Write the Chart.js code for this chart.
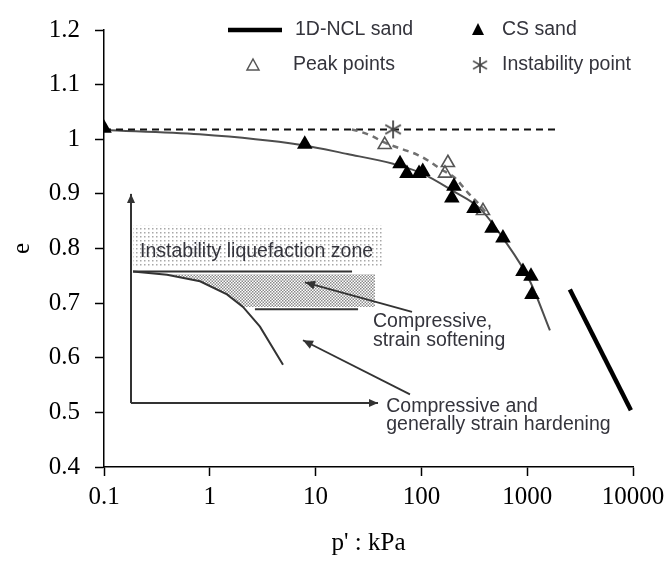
<!DOCTYPE html>
<html lang="en">
<head>
    <meta charset="UTF-8">
    <title>e - log p' plot</title>
    <style>
        body { margin: 0; background: #fff; }
        #wrap { width: 672px; height: 561px; }
    </style>
</head>
<body>
    <div id="wrap"><canvas id="chart" width="672" height="561"></canvas></div>

    <script src="https://cdn.jsdelivr.net/npm/chart.js"></script>
    <script>
        // x tick values (p' : kPa) and y range (e)
        const xTicks = [0.1, 1, 10, 100, 1000, 10000];
        const xTickLabels = ['0.1', '1', '10', '100', '1000', '10000'];
        const yMin = 0.4, yMax = 1.2, yStep = 0.1;

        // 1D-NCL sand
        const nclP = [2530, 9550];
        const nclE = [0.725, 0.504];

        // CS sand points
        const csP = [0.1, 7.9, 62.8, 73, 95, 103, 203, 194, 314, 465, 590, 912, 1086, 1109];
        const csE = [1.02, 0.991, 0.955, 0.9375, 0.9375, 0.941, 0.914, 0.8925, 0.873, 0.837, 0.819, 0.758, 0.749, 0.716];

        // fitted critical state curve (solid grey)
        const cslP = [0.1, 0.8, 7.1, 20, 54, 100, 200, 358, 590, 1062, 1640];
        const cslE = [1.017, 1.009, 0.990, 0.973, 0.955, 0.938, 0.905, 0.873, 0.819, 0.740, 0.650];

        // peak points (open triangles)
        const peakP = [45, 178, 167, 382];
        const peakE = [0.990, 0.957, 0.9375, 0.869];

        // instability point
        const instP = [54];
        const instE = [1.018];

        // horizontal dashed line
        const hLineP = [0.1, 1900];
        const hLineE = [1.018, 1.018];

        // dashed curve through peak points
        const dashP = [22, 25.2, 34.1, 43.4, 65.6, 90.9, 120, 150, 208, 276, 374, 426];
        const dashE = [1.018, 1.015, 1.006, 0.995, 0.982, 0.972, 0.959, 0.946, 0.929, 0.902, 0.875, 0.860];

        // inset schematic, in (p, e) coordinates
        const insetAxisP = [0.18, 0.18, 38.9];
        const insetAxisE = [0.900, 0.517, 0.517];
        const zoneP = [0.188, 43.4];
        const zoneE = [0.767, 0.842];
        const topLineP = [0.188, 22.1];
        const topLineE = [0.758, 0.758];
        const lowLineP = [2.67, 25.2];
        const lowLineE = [0.689, 0.689];
        const insetCurveP = [0.188, 0.394, 0.808, 1.454, 2.06, 2.98, 4.92];
        const insetCurveE = [0.758, 0.752, 0.740, 0.716, 0.693, 0.657, 0.587];
        const denseP = [0.394, 36.4, 36.4, 2.06, 1.454, 0.808];
        const denseE = [0.753, 0.753, 0.693, 0.693, 0.716, 0.740];
        const arrowFromP = [81.5, 78];
        const arrowFromE = [0.684, 0.533];
        const arrowToP = [7.94, 7.6];
        const arrowToE = [0.738, 0.632];
        const noteText = ['Instability liquefaction zone', 'Compressive,', 'strain softening', 'Compressive and', 'generally strain hardening'];
        const noteP = [0.219, 34.9, 34.9, 46.5, 46.5];
        const noteE = [0.795, 0.666, 0.632, 0.510, 0.477];

        const pts = (xs, ys) => xs.map((v, i) => ({ x: v, y: ys[i] }));
        const textColor = '#34343c';
        const sansFont = '"Liberation Sans", Arial, sans-serif';
        const serifFont = '"Liberation Serif", "Times New Roman", serif';

        // asterisk marker
        function makeAsterisk(size) {
            const c = document.createElement('canvas');
            c.width = size; c.height = size;
            const g = c.getContext('2d');
            g.strokeStyle = '#444';
            g.lineWidth = 1.8;
            const r = size / 2 - 1, m = size / 2;
            for (let a = 0; a < 3; a++) {
                const ang = Math.PI / 2 + a * Math.PI / 3;
                g.beginPath();
                g.moveTo(m + r * Math.cos(ang), m - r * Math.sin(ang));
                g.lineTo(m - r * Math.cos(ang), m + r * Math.sin(ang));
                g.stroke();
            }
            return c;
        }
        const asterisk = makeAsterisk(20);

        function makeDots(step, color, offset) {
            const c = document.createElement('canvas');
            c.width = step; c.height = step;
            const g = c.getContext('2d');
            g.fillStyle = color;
            g.fillRect(0, 0, 1.5, 1.5);
            if (offset) g.fillRect(step / 2, step / 2, 1.5, 1.5);
            return c;
        }

        function arrow(ctx, x1, y1, x2, y2, len, half) {
            ctx.beginPath();
            ctx.moveTo(x1, y1);
            ctx.lineTo(x2, y2);
            ctx.stroke();
            const a = Math.atan2(y2 - y1, x2 - x1);
            ctx.beginPath();
            ctx.moveTo(x2, y2);
            ctx.lineTo(x2 - len * Math.cos(a) + half * Math.sin(a), y2 - len * Math.sin(a) - half * Math.cos(a));
            ctx.lineTo(x2 - len * Math.cos(a) - half * Math.sin(a), y2 - len * Math.sin(a) + half * Math.cos(a));
            ctx.closePath();
            ctx.fill();
        }

        const insetPlugin = {
            id: 'inset',
            beforeDatasetsDraw(chart) {
                const ctx = chart.ctx;
                const sx = chart.scales.x, sy = chart.scales.y;
                const px = v => sx.getPixelForValue(v), py = v => sy.getPixelForValue(v);
                ctx.save();

                // light dotted zone
                ctx.fillStyle = ctx.createPattern(makeDots(4, '#a8a8a8', false), 'repeat');
                ctx.fillRect(px(zoneP[0]), py(zoneE[1]), px(zoneP[1]) - px(zoneP[0]), py(zoneE[0]) - py(zoneE[1]));

                // dense dotted zone
                ctx.fillStyle = ctx.createPattern(makeDots(3, '#8a8a8a', true), 'repeat');
                ctx.beginPath();
                denseP.forEach((p, i) => {
                    if (i === 0) ctx.moveTo(px(p), py(denseE[i])); else ctx.lineTo(px(p), py(denseE[i]));
                });
                ctx.closePath();
                ctx.fill();

                ctx.strokeStyle = '#333';
                ctx.fillStyle = '#333';
                ctx.lineWidth = 2;

                // inset axes with arrows
                arrow(ctx, px(insetAxisP[1]), py(insetAxisE[1]), px(insetAxisP[0]), py(insetAxisE[0]), 9, 4);
                arrow(ctx, px(insetAxisP[1]), py(insetAxisE[1]), px(insetAxisP[2]), py(insetAxisE[2]), 9, 4);

                // horizontal lines
                ctx.beginPath();
                ctx.moveTo(px(topLineP[0]), py(topLineE[0]));
                ctx.lineTo(px(topLineP[1]), py(topLineE[1]));
                ctx.moveTo(px(lowLineP[0]), py(lowLineE[0]));
                ctx.lineTo(px(lowLineP[1]), py(lowLineE[1]));
                ctx.stroke();

                // inset curve
                ctx.beginPath();
                insetCurveP.forEach((p, i) => {
                    if (i === 0) ctx.moveTo(px(p), py(insetCurveE[i])); else ctx.lineTo(px(p), py(insetCurveE[i]));
                });
                ctx.stroke();

                // pointer arrows
                ctx.lineWidth = 1.8;
                arrowFromP.forEach((p, i) => {
                    arrow(ctx, px(p), py(arrowFromE[i]), px(arrowToP[i]), py(arrowToE[i]), 10, 4.5);
                });

                // notes
                ctx.fillStyle = textColor;
                ctx.font = '19.5px ' + sansFont;
                ctx.textBaseline = 'middle';
                ctx.textAlign = 'left';
                noteText.forEach((t, i) => ctx.fillText(t, px(noteP[i]), py(noteE[i])));
                ctx.restore();
            }
        };

        const legendPlugin = {
            id: 'customLegend',
            afterDraw(chart) {
                const ctx = chart.ctx;
                ctx.save();
                ctx.font = '19.5px ' + sansFont;
                ctx.fillStyle = textColor;
                ctx.textBaseline = 'middle';
                ctx.fillText('1D-NCL sand', 295, 30);
                ctx.fillText('CS sand', 502, 30);
                ctx.fillText('Peak points', 293, 65);
                ctx.fillText('Instability point', 502, 65);

                ctx.strokeStyle = '#000';
                ctx.lineWidth = 4.5;
                ctx.beginPath();
                ctx.moveTo(228, 30);
                ctx.lineTo(282, 30);
                ctx.stroke();

                ctx.fillStyle = '#000';
                ctx.beginPath();
                ctx.moveTo(478, 23); ctx.lineTo(484, 35); ctx.lineTo(472, 35);
                ctx.closePath();
                ctx.fill();

                ctx.strokeStyle = '#555';
                ctx.lineWidth = 1.5;
                ctx.beginPath();
                ctx.moveTo(253, 59); ctx.lineTo(259, 70); ctx.lineTo(247, 70);
                ctx.closePath();
                ctx.stroke();

                ctx.drawImage(asterisk, 471, 56, 18, 18);
                ctx.restore();
            }
        };

        const lineDs = (label, xs, ys, color, width, dash, order, extra) => Object.assign({
            label: label,
            data: pts(xs, ys),
            showLine: true,
            borderColor: color,
            borderWidth: width,
            borderDash: dash,
            pointRadius: 0,
            fill: false,
            order: order
        }, extra || {});

        new Chart(document.getElementById('chart'), {
            type: 'scatter',
            data: {
                datasets: [
                    lineDs('CSL fit', cslP, cslE, '#4d4d4d', 2, [], 10, { cubicInterpolationMode: 'monotone' }),
                    lineDs('Instability line', hLineP, hLineE, '#111', 2, [7, 5], 9),
                    lineDs('Peak curve', dashP, dashE, '#707070', 2.5, [6, 5], 8, { cubicInterpolationMode: 'monotone' }),
                    lineDs('1D-NCL sand', nclP, nclE, '#000', 4.5, [], 7),
                    {
                        label: 'Peak points',
                        data: pts(peakP, peakE),
                        pointStyle: 'triangle',
                        pointRadius: 7.5,
                        pointBorderColor: '#555',
                        pointBorderWidth: 1.6,
                        pointBackgroundColor: 'rgba(255,255,255,0)',
                        order: 3
                    },
                    {
                        label: 'CS sand',
                        data: pts(csP, csE),
                        pointStyle: 'triangle',
                        pointRadius: 9,
                        pointBorderColor: '#000',
                        pointBorderWidth: 0,
                        pointBackgroundColor: '#000',
                        order: 2
                    },
                    {
                        label: 'Instability point',
                        data: pts(instP, instE),
                        pointStyle: asterisk,
                        pointRadius: 10,
                        order: 1
                    }
                ]
            },
            options: {
                responsive: false,
                animation: false,
                layout: { padding: { left: 0, right: 39, top: 21, bottom: 0 } },
                plugins: {
                    legend: { display: false },
                    tooltip: { enabled: false }
                },
                scales: {
                    x: {
                        type: 'logarithmic',
                        min: 0.1,
                        max: 10000,
                        afterBuildTicks: s => { s.ticks = xTicks.map(v => ({ value: v })); },
                        afterFit: s => { s.height = 94; },
                        ticks: {
                            autoSkip: false,
                            maxRotation: 0,
                            color: '#000',
                            padding: 6,
                            font: { family: serifFont, size: 25 },
                            callback: (v) => xTickLabels[xTicks.indexOf(v)]
                        },
                        grid: { drawOnChartArea: false, drawTicks: true, tickLength: 9, tickColor: '#000', tickWidth: 1.5 },
                        border: { color: '#000', width: 1.5 },
                        title: {
                            display: true,
                            text: "p' : kPa",
                            color: '#000',
                            font: { family: serifFont, size: 25 },
                            padding: { top: 0, bottom: 3 }
                        }
                    },
                    y: {
                        min: yMin,
                        max: yMax,
                        afterFit: s => { s.width = 104; },
                        ticks: {
                            stepSize: yStep,
                            color: '#000',
                            padding: 15,
                            font: { family: serifFont, size: 25 },
                            callback: v => String(+v.toFixed(1))
                        },
                        grid: { drawOnChartArea: false, drawTicks: true, tickLength: 9, tickColor: '#000', tickWidth: 1.5 },
                        border: { color: '#000', width: 1.5 },
                        title: {
                            display: true,
                            text: 'e',
                            color: '#000',
                            font: { family: serifFont, size: 25 },
                            padding: { top: 7, bottom: 0 }
                        }
                    }
                }
            },
            plugins: [insetPlugin, legendPlugin]
        });
    </script>
</body>
</html>
